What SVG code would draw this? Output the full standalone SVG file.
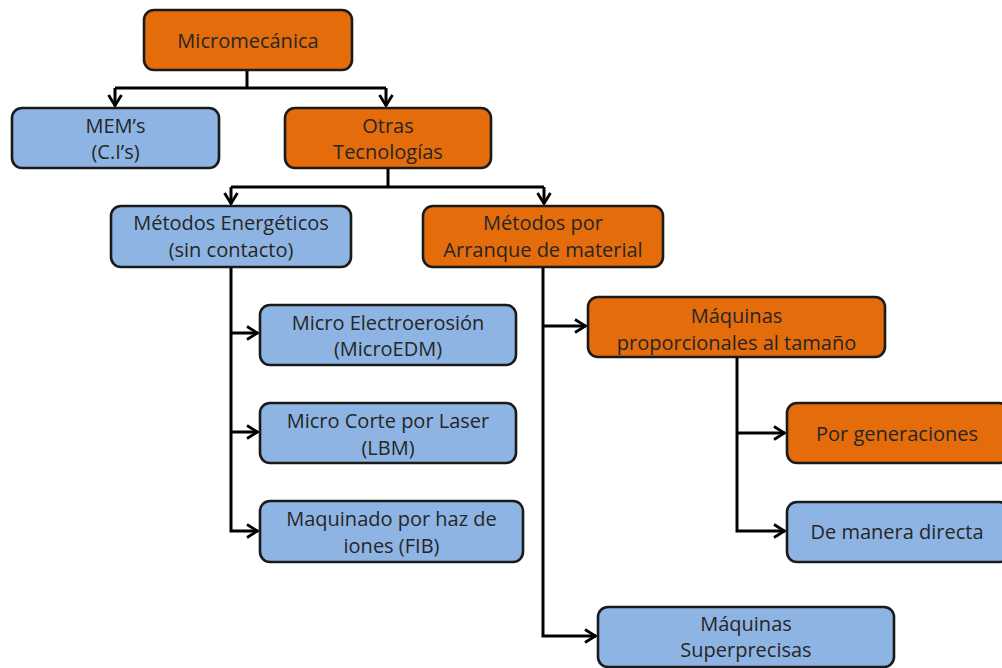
<svg xmlns="http://www.w3.org/2000/svg" width="1002" height="668" viewBox="0 0 1002 668">
<defs>
<marker id="arr" viewBox="0 0 14 16" refX="12.5" refY="8" markerWidth="14" markerHeight="16" markerUnits="userSpaceOnUse" orient="auto">
<path d="M1.5,1.5 L12,8 L1.5,14.5" fill="none" stroke="#000" stroke-width="2.8"/>
</marker>
<style>
.box{stroke:#1a1a1a;stroke-width:2.6}
.or{fill:#E46C0A}
.bl{fill:#8EB4E3}
text{font-family:"Open Sans","Liberation Sans",sans-serif;font-size:20px;fill:#262626;text-anchor:middle;dominant-baseline:central}
.con{fill:none;stroke:#000;stroke-width:3}
</style>
</defs>
<rect width="1002" height="668" fill="#fff"/>
<g id="connectors">
<path class="con" d="M247,70 V88 M115,88 H386"/>
<path class="con" d="M115,88 V106" marker-end="url(#arr)"/>
<path class="con" d="M386,88 V106" marker-end="url(#arr)"/>
<path class="con" d="M388,168 V187 M231,187 H544"/>
<path class="con" d="M231,187 V204" marker-end="url(#arr)"/>
<path class="con" d="M544,187 V204" marker-end="url(#arr)"/>
<path class="con" d="M231,267 V531 H258" marker-end="url(#arr)"/>
<path class="con" d="M231,333 H258" marker-end="url(#arr)"/>
<path class="con" d="M231,432 H258" marker-end="url(#arr)"/>
<path class="con" d="M543,267 V636 H596" marker-end="url(#arr)"/>
<path class="con" d="M543,326 H586" marker-end="url(#arr)"/>
<path class="con" d="M737,357 V531 H785" marker-end="url(#arr)"/>
<path class="con" d="M737,433 H785" marker-end="url(#arr)"/>
</g>
<g id="n-micromecanica"><rect class="box or" x="144" y="10" width="208" height="60" rx="10"/><text x="248" y="40">Micromecánica</text></g>
<g id="n-mems"><rect class="box bl" x="12" y="108" width="207" height="60" rx="10"/><text x="115.5" y="125">MEM’s</text><text x="115.5" y="151">(C.I’s)</text></g>
<g id="n-otras"><rect class="box or" x="285" y="108" width="206" height="60" rx="10"/><text x="388" y="125">Otras</text><text x="388" y="151">Tecnologías</text></g>
<g id="n-energeticos"><rect class="box bl" x="111" y="206" width="240" height="61" rx="10"/><text x="231" y="222">Métodos Energéticos</text><text x="231" y="249">(sin contacto)</text></g>
<g id="n-arranque"><rect class="box or" x="423" y="206" width="240" height="61" rx="10"/><text x="543" y="222">Métodos por</text><text x="543" y="249">Arranque de material</text></g>
<g id="n-edm"><rect class="box bl" x="260" y="305" width="256" height="60" rx="10"/><text x="388" y="322">Micro Electroerosión</text><text x="388" y="348">(MicroEDM)</text></g>
<g id="n-lbm"><rect class="box bl" x="260" y="403" width="256" height="60" rx="10"/><text x="388" y="420">Micro Corte  por Laser</text><text x="388" y="447">(LBM)</text></g>
<g id="n-fib"><rect class="box bl" x="260" y="501" width="263" height="61" rx="10"/><text x="391.5" y="518">Maquinado por haz de</text><text x="391.5" y="545">iones (FIB)</text></g>
<g id="n-proporcionales"><rect class="box or" x="588" y="297" width="297" height="60" rx="10"/><text x="736.5" y="315">Máquinas</text><text x="736.5" y="342">proporcionales al tamaño</text></g>
<g id="n-generaciones"><rect class="box or" x="787" y="403" width="222" height="60" rx="10"/><text x="897" y="433">Por generaciones</text></g>
<g id="n-directa"><rect class="box bl" x="787" y="502" width="222" height="60" rx="10"/><text x="897" y="531">De manera  directa</text></g>
<g id="n-superprecisas"><rect class="box bl" x="598" y="607" width="296" height="60" rx="10"/><text x="746" y="623">Máquinas</text><text x="746" y="649">Superprecisas</text></g>
</svg>
